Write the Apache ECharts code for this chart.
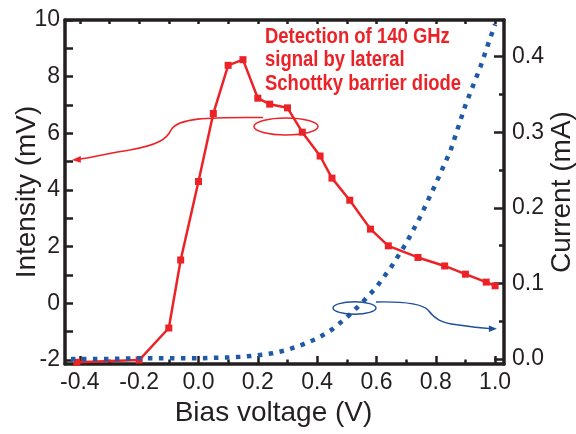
<!DOCTYPE html>
<html>
<head>
<meta charset="utf-8">
<script src="https://cdn.jsdelivr.net/npm/echarts@6/dist/echarts.min.js"></script>
<style>
  html, body { margin: 0; padding: 0; background: #ffffff; }
  #chart { width: 576px; height: 434px; }
</style>
</head>
<body>
<div id="chart"></div>
<script>
// Detected intensity (mV) versus bias voltage (V)
const redV = [-0.41, -0.2, -0.1, -0.06, 0.0, 0.05, 0.1, 0.15, 0.2, 0.24, 0.3, 0.35, 0.41, 0.45, 0.51, 0.58, 0.64, 0.74, 0.83, 0.9, 0.97, 1.0];
const redMV = [-2.08, -2.0, -0.87, 1.53, 4.3, 6.7, 8.4, 8.6, 7.24, 7.03, 6.9, 6.04, 5.2, 4.42, 3.64, 2.62, 2.03, 1.62, 1.32, 1.03, 0.75, 0.62];

// Diode current (mA) versus bias voltage (V)
const blueV = [-0.43, -0.3, -0.2, -0.1, 0.0, 0.1, 0.15, 0.2, 0.25, 0.3, 0.35, 0.4, 0.45, 0.5, 0.55, 0.6, 0.65, 0.7, 0.75, 0.8, 0.85, 0.9, 0.95, 0.975, 1.0];
const blueMA = [0.0, 0.0, 0.001, 0.001, 0.001, 0.002, 0.003, 0.005, 0.0075, 0.012, 0.019, 0.027, 0.039, 0.055, 0.074, 0.095, 0.122, 0.153, 0.19, 0.232, 0.276, 0.336, 0.386, 0.415, 0.443];

// Tick positions and labels
const xMajor = [-0.4, -0.2, 0.0, 0.2, 0.4, 0.6, 0.8, 1.0];
const xMinor = [-0.3, -0.1, 0.1, 0.3, 0.5, 0.7, 0.9];
const xAll = [-0.4, -0.3, -0.2, -0.1, 0.0, 0.1, 0.2, 0.3, 0.4, 0.5, 0.6, 0.7, 0.8, 0.9, 1.0];
const yLeftTicks = [-2, -1, 0, 1, 2, 3, 4, 5, 6, 7, 8, 9, 10];
const yLeftLabels = [-2, 0, 2, 4, 6, 8, 10];
const yRightMajor = [0.0, 0.1, 0.2, 0.3, 0.4];
const yRightMinor = [0.05, 0.15, 0.25, 0.35, 0.45];

const noteLines = ['Detection of 140 GHz', 'signal by lateral', 'Schottky barrier diode'];

const RED = '#ec2227';
const BLUE = '#1e5aa8';
const LEAD_BLUE = '#1d4f9a';
const INK = '#231f20';
const FONT = "'Liberation Sans', Arial, Helvetica, sans-serif";

const chart = echarts.init(document.getElementById('chart'), null, { renderer: 'canvas' });

const axisLineStyle = { show: true, onZero: false, lineStyle: { color: INK, width: 3.5 } };
const hiddenLine = { show: false, onZero: false };

const option = {
  backgroundColor: '#ffffff',
  animation: false,
  grid: { left: 65, right: 72, top: 20, bottom: 70, containLabel: false, outerBoundsMode: 'none' },
  xAxis: [
    {
      type: 'value', position: 'bottom', min: -0.45, max: 1.03,
      axisLine: axisLineStyle,
      axisTick: { show: true, inside: true, length: 8, lineStyle: { color: INK, width: 2.5 }, customValues: xMajor },
      axisLabel: { show: true, customValues: xMajor, margin: 7, color: INK, fontSize: 23, fontFamily: FONT,
        formatter: v => v.toFixed(1) },
      splitLine: { show: false },
      name: 'Bias voltage (V)', nameLocation: 'middle', nameGap: 35, nameMoveOverlap: false,
      nameTextStyle: { color: INK, fontSize: 28, fontFamily: FONT, padding: [0, 22, 0, 0] }
    },
    {
      type: 'value', position: 'bottom', min: -0.45, max: 1.03,
      axisLine: hiddenLine,
      axisTick: { show: true, inside: true, length: 4.5, lineStyle: { color: INK, width: 2.5 }, customValues: xMinor },
      axisLabel: { show: false },
      splitLine: { show: false }
    },
    {
      type: 'value', position: 'top', min: -0.45, max: 1.03,
      axisLine: axisLineStyle,
      axisTick: { show: true, inside: true, length: 4, lineStyle: { color: INK, width: 2.5 }, customValues: xAll },
      axisLabel: { show: false },
      splitLine: { show: false }
    }
  ],
  yAxis: [
    {
      type: 'value', position: 'left', min: -2.14, max: 10,
      axisLine: axisLineStyle,
      axisTick: { show: true, inside: true, length: 8, lineStyle: { color: INK, width: 2.5 }, customValues: yLeftTicks },
      axisLabel: { show: true, customValues: yLeftLabels, margin: 5, color: INK, fontSize: 23, fontFamily: FONT,
        formatter: v => String(Math.round(v)) },
      splitLine: { show: false },
      name: 'Intensity (mV)', nameLocation: 'middle', nameGap: 24, nameMoveOverlap: false,
      nameTextStyle: { color: INK, fontSize: 28, fontFamily: FONT }
    },
    {
      type: 'value', position: 'right', min: -0.0066, max: 0.4486,
      axisLine: axisLineStyle,
      axisTick: { show: true, inside: true, length: 10, lineStyle: { color: INK, width: 2.5 }, customValues: yRightMajor },
      axisLabel: { show: true, customValues: yRightMajor, margin: 8, color: INK, fontSize: 23, fontFamily: FONT,
        formatter: v => v.toFixed(1) },
      splitLine: { show: false },
      name: 'Current (mA)', nameLocation: 'middle', nameGap: 44, nameMoveOverlap: false,
      nameTextStyle: { color: INK, fontSize: 28, fontFamily: FONT }
    },
    {
      type: 'value', position: 'right', min: -0.0066, max: 0.4486,
      axisLine: hiddenLine,
      axisTick: { show: true, inside: true, length: 5, lineStyle: { color: INK, width: 2.5 }, customValues: yRightMinor },
      axisLabel: { show: false },
      splitLine: { show: false }
    }
  ],
  series: [
    {
      name: 'Intensity', type: 'line', xAxisIndex: 0, yAxisIndex: 0,
      data: redV.map((v, i) => [v, redMV[i]]),
      symbol: 'rect', symbolSize: 7,
      itemStyle: { color: RED },
      lineStyle: { color: RED, width: 2.5 },
      z: 3
    },
    {
      name: 'Current', type: 'line', xAxisIndex: 0, yAxisIndex: 1,
      data: blueV.map((v, i) => [v, blueMA[i]]),
      symbol: 'none',
      lineStyle: { color: BLUE, width: 4.5, type: [4.5, 6.5], cap: 'butt' },
      z: 4
    }
  ]
};

chart.setOption(option);

// Leader annotations, anchored in data space
const onLeft = p => chart.convertToPixel({ xAxisIndex: 0, yAxisIndex: 0 }, p);
const onRight = p => chart.convertToPixel({ xAxisIndex: 0, yAxisIndex: 1 }, p);

const E1 = onLeft([0.295, 6.24]);    // ellipse around the intensity curve
const T1 = onLeft([-0.427, 5.06]);   // arrow tip at the left axis
const E2 = onRight([0.526, 0.0675]); // ellipse around the current curve
const T2 = onRight([1.006, 0.04]);   // arrow tip at the right axis

function bez(p0, c1, c2, p1, color, w) {
  return {
    type: 'bezierCurve', z: 20, silent: true,
    shape: { x1: p0[0], y1: p0[1], cpx1: c1[0], cpy1: c1[1], cpx2: c2[0], cpy2: c2[1], x2: p1[0], y2: p1[1] },
    style: { stroke: color, lineWidth: w, fill: null }
  };
}

const rA0 = [E1[0] - 23, E1[1] - 9];
const rA1 = [E1[0] - 115, E1[1] + 3.5];
const rB1 = [T1[0] + 58, T1[1] - 10];
const rC1 = [T1[0] + 6, T1[1] - 0.6];

const bA0 = [E2[0] + 21.5, E2[1] - 6];
const bA1 = [E2[0] + 73.5, E2[1] + 2];
const bB1 = [T2[0] - 40, T2[1] - 4];
const bC1 = [T2[0] - 6, T2[1] - 0.2];

const graphics = [
  { type: 'ellipse', z: 20, silent: true, shape: { cx: E1[0], cy: E1[1], rx: 32, ry: 8.5 },
    style: { fill: null, stroke: RED, lineWidth: 1.5 } },
  bez(rA0, [E1[0] - 81, E1[1] - 9.5], [E1[0] - 108, E1[1] - 8.5], rA1, RED, 1.6),
  bez(rA1, [T1[0] + 95, T1[1] - 21], [T1[0] + 86, T1[1] - 15], rB1, RED, 1.6),
  bez(rB1, [T1[0] + 38, T1[1] - 7], [T1[0] + 20, T1[1] - 2.5], rC1, RED, 1.6),
  { type: 'polygon', z: 20, silent: true,
    shape: { points: [[T1[0], T1[1]], [T1[0] + 9, T1[1] - 4], [T1[0] + 9, T1[1] + 2.8]] },
    style: { fill: RED } },

  { type: 'ellipse', z: 20, silent: true, shape: { cx: E2[0], cy: E2[1], rx: 21.5, ry: 6.2 },
    style: { fill: null, stroke: LEAD_BLUE, lineWidth: 1.4 } },
  bez(bA0, [E2[0] + 45.5, E2[1] - 6.5], [E2[0] + 66.5, E2[1] - 5], bA1, LEAD_BLUE, 1.4),
  bez(bA1, [T2[0] - 63, T2[1] - 11], [T2[0] - 57, T2[1] - 6], bB1, LEAD_BLUE, 1.4),
  bez(bB1, [T2[0] - 27, T2[1] - 2], [T2[0] - 15, T2[1] - 0.7], bC1, LEAD_BLUE, 1.4),
  { type: 'polygon', z: 20, silent: true,
    shape: { points: [[T2[0], T2[1]], [T2[0] - 8, T2[1] - 3.2], [T2[0] - 8, T2[1] + 3.2]] },
    style: { fill: LEAD_BLUE } },

  { type: 'text', z: 21, silent: true, x: 265, y: 25, scaleX: 0.84,
    style: { text: noteLines.join('\n'), fill: RED, font: "bold 22px " + FONT,
      lineHeight: 23.5, textAlign: 'left', textVerticalAlign: 'top' } }
];

chart.setOption({ graphic: graphics });
</script>
</body>
</html>
